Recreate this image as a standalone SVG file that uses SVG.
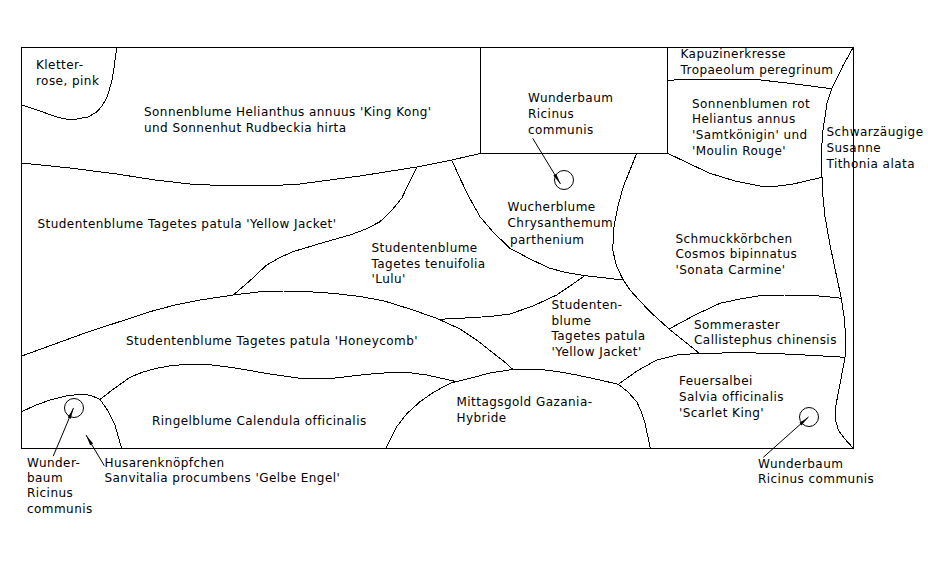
<svg xmlns="http://www.w3.org/2000/svg" width="928" height="567" viewBox="0 0 928 567">
<style>
text{font-family:"DejaVu Sans",Verdana,sans-serif;font-size:12px;letter-spacing:.45px;fill:#000}
.c{fill:none;stroke:#000;stroke-width:1;stroke-linejoin:round;shape-rendering:crispEdges}
.f{fill:none;stroke:#000;stroke-width:1;shape-rendering:crispEdges}
.k{fill:none;stroke:#000;stroke-width:1}
.a{fill:none;stroke:#000;stroke-width:1;marker-end:url(#ah)}
</style>
<defs><marker id="ah" markerUnits="userSpaceOnUse" markerWidth="12" markerHeight="6" refX="11" refY="3" orient="auto"><path d="M11 3L0 1.300V4.700Z" fill="#000"/></marker></defs>
<rect width="928" height="567" fill="#fff"/>
<g id="connectors">
<rect class="f" x="21.500" y="47.500" width="832" height="401"/>
<path class="f" d="M480.500 47.500V153.500M667.500 47.500V153.500M451.700 160L480.500 153.500H667.500"/>
<polyline class="c" points="116.700,47.500 114,68 111.700,82 106.700,98 102,106 96.700,112 88,117 76.700,119 66,119 56.700,117 40,111 21.700,105"/>
<polyline class="c" points="21.700,163 70,168 116.700,174 155,180 190,184 220,185.500 246.700,186 275,185.500 300,184 360,176 416.700,167 451.700,160"/>
<polyline class="c" points="667.700,80.300 688,79.300 755,79.300 795,84 831.700,88.700"/>
<polyline class="c" points="853.300,47.300 843.300,65 831.700,88.700 827,103 825,116.700 823,130 821.700,146.700 821.700,160 822,176.700 823,197 825,216.700 830,245 836.700,276.700 841.300,298.300 844,316 845.700,336.700 845,357.300 840,384 835,410 835.800,421 838.300,430 844,438 853.300,448.300"/>
<polyline class="c" points="667.700,153.300 690,164 710,173.300 735,181 760,186 778,186 793.300,184 822,177.300"/>
<polyline class="c" points="636.700,153.300 630,170 623.300,186.700 618,206 614,226.700 612.700,250 616.700,266.700 623.300,280 630,290 640,301 650,311.700 669,329 699.300,353.300"/>
<polyline class="c" points="451.700,160 460,178.300 469,197 480,216.700 494,233 510,248.300 530,259 550,268.300 566,272.500 585,275.700 623.300,280"/>
<polyline class="c" points="416.700,167.300 409,183 401.700,198.300 392,210 380,221.700 366,229 350,235 320,243.500 293,251.700 280,257.500 266.700,265 258,273 250.700,280 233.300,295"/>
<polyline class="c" points="21.700,356 85,333 150,311.700 175,305 200,300 233.300,295 258,292 283.300,291 310,291.800 333,293.300 360,296.500 383.300,300.700 410,309 436.700,318.300 460,329 478,341 493,353 503,360.500 512.700,369.300"/>
<polyline class="c" points="438,319.300 460,318.300 490,316.500 510,314 533,306 556.700,295 570,286 584.300,276"/>
<polyline class="c" points="669,329 695,315 720,303.300 740,299 760,295.700 785,295 806.700,295 825,296.500 841.300,298.300"/>
<polyline class="c" points="618.300,384.300 637,371 656.700,360 676.700,355 699.300,353.300 746.700,352.700 793.300,354.300 845,357.300"/>
<polyline class="c" points="386,448.300 396.700,426.700 407,413.500 420,401.700 434,392 450,383.300 470,378.300 490,373 513.300,369.300 540,369.300 560,372 576.700,375 600,380 618.300,384.300 628,392 636.700,401.700 641.500,412 645,423 650.300,448.300"/>
<polyline class="c" points="100,399.300 115,388 130,377.300 143,372 156.700,368.300 172,365.500 190,364.300 212,365 233.300,367.700 270,374 300,378.300 333,378.300 365,374.500 393,372.300 412,373 426.700,375 456.700,381.700"/>
<polyline class="c" points="21.700,411.700 35,405.500 50,400 66,396 81.700,394 91,395.500 100,399.300 108,411 115,425 118,436 121.700,448.300"/>
<line class="a" x1="532.700" y1="138.300" x2="560.500" y2="184"/>
<line class="a" x1="53.300" y1="456" x2="73.500" y2="408"/>
<line class="a" x1="104.300" y1="465.700" x2="86" y2="435"/>
<line class="a" x1="763.300" y1="457.300" x2="808.500" y2="417"/>
</g>
<g id="tree-top"><circle class="k" cx="564" cy="180" r="9.500"/></g>
<g id="tree-left"><circle class="k" cx="74" cy="408" r="9.500"/></g>
<g id="tree-right"><circle class="k" cx="809" cy="417" r="9.500"/></g>
<g id="n1"><text x="36" y="69">Kletter-</text><text x="36" y="85">rose, pink</text></g>
<g id="n2"><text x="144" y="116">Sonnenblume Helianthus annuus 'King Kong'</text><text x="144" y="132">und Sonnenhut Rudbeckia hirta</text></g>
<g id="n3"><text x="37.500" y="228">Studentenblume Tagetes patula 'Yellow Jacket'</text></g>
<g id="n4"><text x="371.500" y="252">Studentenblume</text><text x="371.500" y="268">Tagetes tenuifolia</text><text x="371.500" y="283">'Lulu'</text></g>
<g id="n5"><text x="528" y="102">Wunderbaum</text><text x="528" y="118">Ricinus</text><text x="528" y="134">communis</text></g>
<g id="n6"><text x="680.500" y="58">Kapuzinerkresse</text><text x="680.500" y="74">Tropaeolum peregrinum</text></g>
<g id="n7"><text x="692" y="108">Sonnenblumen rot</text><text x="692" y="123">Heliantus annus</text><text x="692" y="139">'Samtkönigin' und</text><text x="692" y="155">'Moulin Rouge'</text></g>
<g id="n8"><text x="826.500" y="136">Schwarzäugige</text><text x="826.500" y="152">Susanne</text><text x="826.500" y="168">Tithonia alata</text></g>
<g id="n9"><text x="507.500" y="211">Wucherblume</text><text x="507.500" y="227">Chrysanthemum</text><text x="510" y="244">parthenium</text></g>
<g id="n10"><text x="675.500" y="243">Schmuckkörbchen</text><text x="675.500" y="258">Cosmos bipinnatus</text><text x="675.500" y="274">'Sonata Carmine'</text></g>
<g id="n11"><text x="551.500" y="309">Studenten-</text><text x="551.500" y="325">blume</text><text x="551.500" y="340">Tagetes patula</text><text x="551.500" y="356">'Yellow Jacket'</text></g>
<g id="n12"><text x="694" y="329">Sommeraster</text><text x="694" y="344">Callistephus chinensis</text></g>
<g id="n13"><text x="679" y="385">Feuersalbei</text><text x="679" y="401">Salvia officinalis</text><text x="679" y="417">'Scarlet King'</text></g>
<g id="n14"><text x="758" y="468">Wunderbaum</text><text x="758" y="483">Ricinus communis</text></g>
<g id="n15"><text x="456.500" y="406">Mittagsgold Gazania-</text><text x="456.500" y="422">Hybride</text></g>
<g id="n16"><text x="152" y="425">Ringelblume Calendula officinalis</text></g>
<g id="n17"><text x="126" y="345">Studentenblume Tagetes patula 'Honeycomb'</text></g>
<g id="n18"><text x="27" y="467">Wunder-</text><text x="27" y="482">baum</text><text x="27" y="497">Ricinus</text><text x="27" y="513">communis</text></g>
<g id="n19"><text x="104.500" y="467">Husarenknöpfchen</text><text x="104.500" y="482">Sanvitalia procumbens 'Gelbe Engel'</text></g>
</svg>
